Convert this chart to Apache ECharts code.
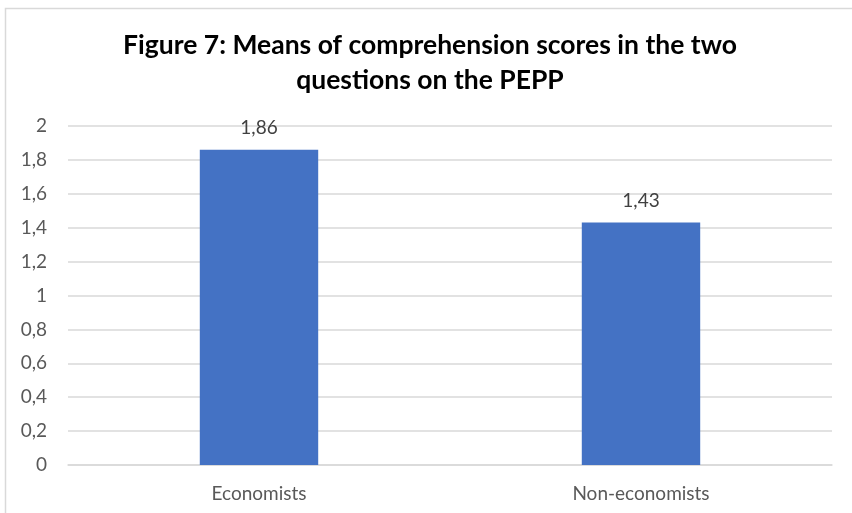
<!DOCTYPE html>
<html><head><meta charset="utf-8">
<script src="https://cdn.jsdelivr.net/npm/echarts@6/dist/echarts.min.js"></script>
<style>html,body{margin:0;padding:0;background:#fff}#c{width:852px;height:513px}</style>
</head><body><div id="c"></div>
<script>
var categories = ['Economists', 'Non-economists'];
var values = [1.86, 1.43];
var yTicks = [0, 0.2, 0.4, 0.6, 0.8, 1, 1.2, 1.4, 1.6, 1.8, 2];
var titleText = 'Figure 7: Means of comprehension scores in the two\nquestions on the PEPP';

function fmt(v){ return String(Math.round(v*100)/100).replace('.', ','); }

var chart = echarts.init(document.getElementById('c'), null, {renderer:'canvas'});
chart.setOption({
  animation:false,
  graphic:[{type:'rect', shape:{x:5.5,y:8.5,width:900,height:600}, style:{fill:null, stroke:'#d9d9d9', lineWidth:1.5}, silent:true}],
  title:{text:titleText, left:425, textAlign:'center', top:23,
    textStyle:{fontFamily:'Lato', fontWeight:'bold', fontSize:26.5, color:'#000', lineHeight:35}},
  grid:{left:68, right:20, top:126, bottom:48},
  xAxis:{type:'category', data:categories,
    axisLine:{lineStyle:{color:'#d9d9d9', width:1.5}}, axisTick:{show:false},
    axisLabel:{color:'#595959', fontFamily:'Lato', fontSize:19, margin:19}},
  yAxis:{type:'value', min:0, max:2, interval:0.2,
    axisLine:{show:false}, axisTick:{show:false},
    splitLine:{lineStyle:{color:'#d9d9d9', width:1.5}},
    axisLabel:{color:'#595959', fontFamily:'Lato', fontSize:19, margin:21, formatter:function(v){return fmt(v);}}},
  series:[{type:'bar', data:values, barWidth:'31%',
    itemStyle:{color:'#4472C4'},
    label:{show:true, position:'top', distance:12, color:'#404040', fontFamily:'Lato', fontSize:19,
      formatter:function(p){return fmt(p.value);}}}]
});
</script></body></html>
